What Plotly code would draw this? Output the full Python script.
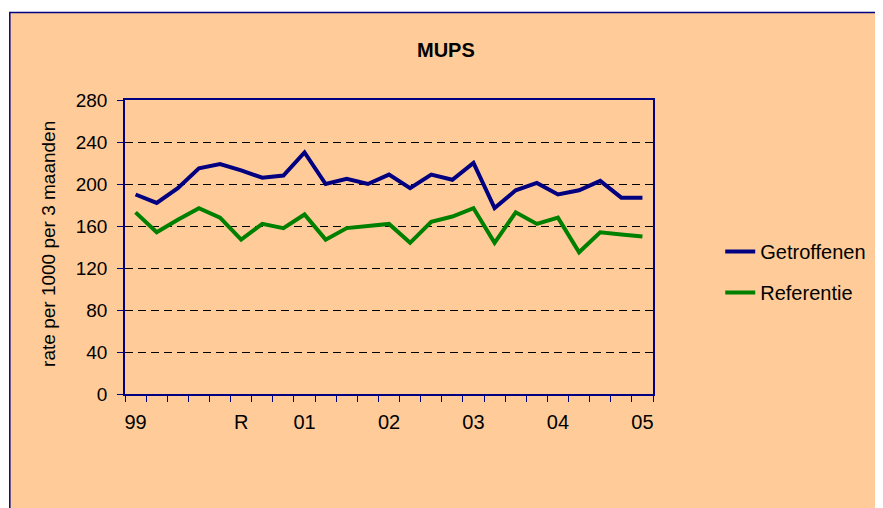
import plotly.graph_objects as go

# ---- data ----
quarters = [
    "1999 K1", "1999 K2", "1999 K3", "1999 K4",
    "2000 K1", "2000 K2", "2000 K3", "2000 K4",
    "2001 K1", "2001 K2", "2001 K3", "2001 K4",
    "2002 K1", "2002 K2", "2002 K3", "2002 K4",
    "2003 K1", "2003 K2", "2003 K3", "2003 K4",
    "2004 K1", "2004 K2", "2004 K3", "2004 K4",
    "2005 K1",
]
getroffenen = [190, 182, 196, 215, 219, 213, 206, 208, 230, 200, 205, 200,
               209, 196, 209, 204, 220, 177, 194, 201, 190, 194, 203, 187, 187]
referentie = [173, 154, 166, 177, 168, 147, 162, 158, 171, 147, 158, 160,
              162, 144, 164, 169, 177, 144, 173, 162, 168, 135, 154, 152, 150]
x_tick_labels = ["99", "", "", "", "", "R", "", "", "01", "", "", "",
                 "02", "", "", "", "03", "", "", "", "04", "", "", "", "05"]
y_ticks = [0, 40, 80, 120, 160, 200, 240, 280]

FONT = "Liberation Sans, Arial, sans-serif"
NAVY = "#000080"
PEACH = "#FFCC99"

# page has an 8px body margin; figure placed at (8, 8)
OFF = 8
W, H = 883 - OFF, 508 - OFF
PL, PR, PT, PB = 125, 659, 100, 394          # plot area in page pixels
ML, MT = PL - OFF, PT - OFF
MR, MB = W - (PR - OFF), H - (PB - OFF)
PW, PH = W - ML - MR, H - MT - MB


def px_x(p):
    return (p - OFF - ML) / PW


def px_y(p):
    return (PB - p) / PH


fig = go.Figure()
fig.add_trace(go.Scatter(x=quarters, y=getroffenen, name="Getroffenen",
                         mode="lines", line=dict(color=NAVY, width=4),
                         legendgroup="a"))
fig.add_trace(go.Scatter(x=quarters, y=referentie, name="Referentie",
                         mode="lines", line=dict(color="#008000", width=4),
                         legendgroup="b"))

fig.update_layout(
    width=W, height=H,
    margin=dict(l=ML, r=MR, t=MT, b=MB),
    paper_bgcolor="white",
    plot_bgcolor="rgba(0,0,0,0)",
    font=dict(family=FONT, size=20, color="black"),
    showlegend=True,
    legend=dict(x=px_x(727), y=px_y(272), xanchor="left", yanchor="middle",
                bgcolor="rgba(0,0,0,0)", font=dict(size=20),
                tracegroupgap=12),
    shapes=[dict(type="rect", xref="paper", yref="paper", layer="below",
                 x0=px_x(8.5), x1=px_x(900), y0=px_y(530), y1=px_y(12.5),
                 fillcolor=PEACH, line=dict(color=NAVY, width=1.5))],
    annotations=[
        dict(text="<b>MUPS</b>", xref="paper", yref="paper",
             x=px_x(450), y=px_y(50), xanchor="center", yanchor="middle",
             showarrow=False, font=dict(size=20)),
        dict(text="rate per 1000 per 3 maanden", xref="paper", yref="paper",
             x=px_x(47), y=px_y(244), xanchor="center", yanchor="middle",
             textangle=-90, showarrow=False, font=dict(size=19)),
    ],
)

fig.update_xaxes(
    type="category", categoryorder="array", categoryarray=quarters,
    range=[-0.5, len(quarters) - 0.5],
    tickmode="array", tickvals=quarters, ticktext=x_tick_labels,
    tickson="boundaries", ticks="outside", ticklen=6, tickcolor=NAVY,
    tickwidth=1.2, showgrid=False, showline=True, linecolor=NAVY,
    linewidth=1.5, mirror=True, tickfont=dict(size=20), tickangle=0,
    ticklabelstandoff=9, zeroline=False,
)
fig.update_yaxes(
    range=[0, 280], tickmode="array", tickvals=y_ticks,
    ticks="outside", ticklen=6, tickcolor=NAVY, tickwidth=1.2,
    showgrid=True, gridcolor="black", gridwidth=1, griddash="8px,5px",
    showline=True, linecolor=NAVY, linewidth=1.5, mirror=True,
    tickfont=dict(size=19), ticklabelstandoff=6, zeroline=False,
)

fig.write_html("out.html")
